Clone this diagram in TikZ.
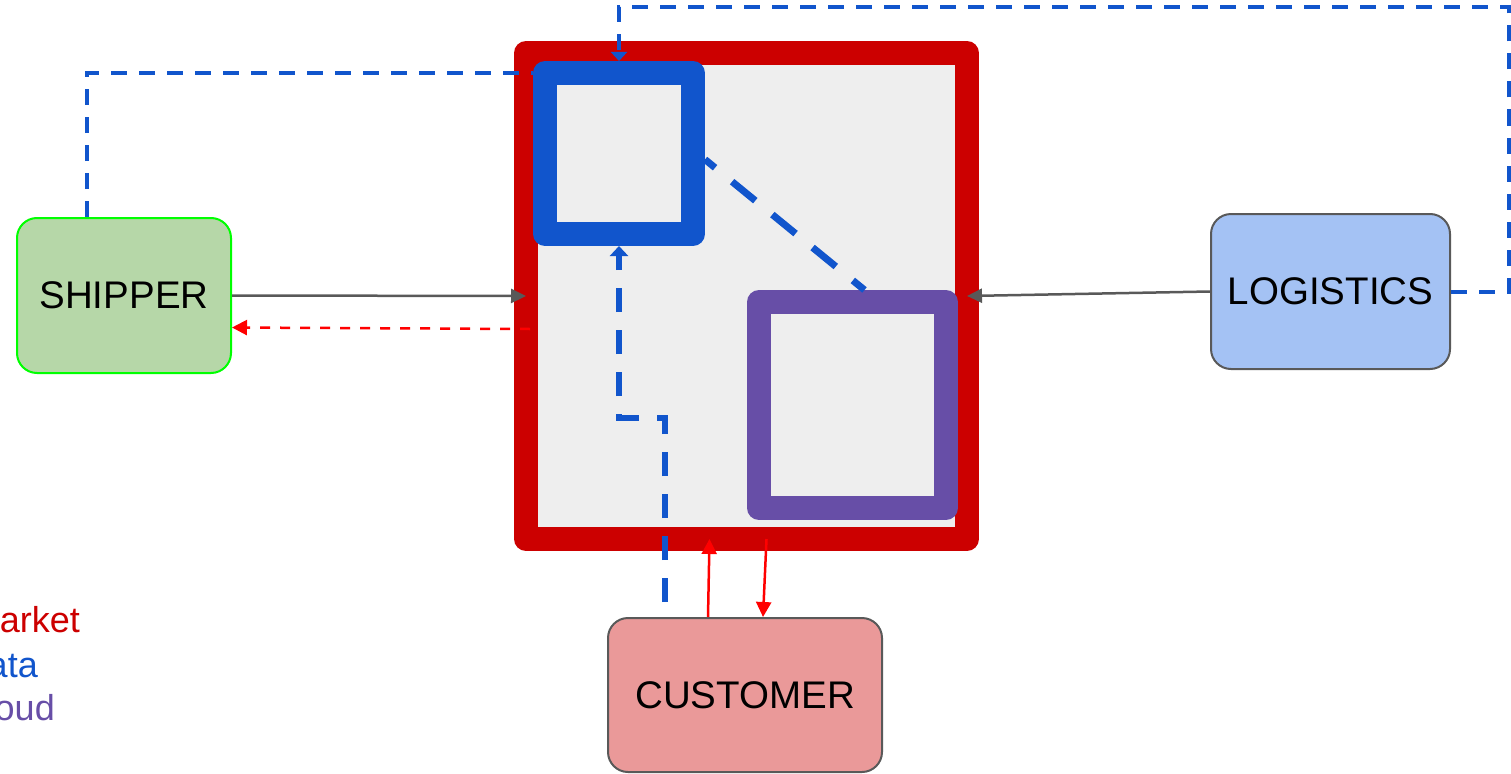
\documentclass[tikz,border=0pt]{standalone}
\usepackage{fontspec}
\setmainfont{Liberation Sans}
\usetikzlibrary{arrows.meta}
\definecolor{mktred}{HTML}{CC0000}
\definecolor{datablue}{HTML}{1155CC}
\definecolor{cloudpurple}{HTML}{674EA7}
\definecolor{panelgray}{HTML}{EEEEEE}
\definecolor{edgegray}{HTML}{595959}
\definecolor{shipfill}{HTML}{B6D7A8}
\definecolor{logifill}{HTML}{A4C2F4}
\definecolor{custfill}{HTML}{EA9999}

\begin{document}
\begin{tikzpicture}[x=1pt, y=-1pt,
actor/.style={rectangle, rounded corners=20pt, line width=2pt, draw=edgegray, align=center, font=\fontsize{38.5}{46}\selectfont},
frame/.style={rectangle, line width=24pt, line join=round, fill=panelgray, inner sep=0pt},
legend/.style={anchor=base east, inner sep=0pt, font=\fontsize{36}{42}\selectfont},
flow/.style={draw=edgegray, line width=2.5pt, -{Triangle[length=15pt,width=14pt]}},
reply/.style={draw=red, line width=2.5pt, -{Triangle[length=15pt,width=15pt]}},
dataline/.style={draw=datablue, line width=4pt, dash pattern=on 16pt off 12pt}
]
\useasboundingbox (0,0) rectangle (1511,773);

% boxes
\node[frame, draw=mktred, outer sep=0pt, minimum width=441pt, minimum height=486pt](market) at (746.5,296){};
\node[frame, draw=datablue, minimum width=148pt, minimum height=161pt](data) at (619,153.5){};
\node[frame, draw=cloudpurple, minimum width=187pt, minimum height=206pt](cloud) at (852.5,405){};

\node[actor, draw=green, fill=shipfill, minimum width=214pt, minimum height=155pt](shipper) at (124,295.5){SHIPPER};
\node[actor, fill=logifill, minimum width=239pt, minimum height=155pt](logistics) at (1330.5,291.5){LOGISTICS};
\node[actor, fill=custfill, minimum width=274pt, minimum height=154pt](customer) at (745,695){CUSTOMER};

% legend
\node[legend, text=mktred](legend_market) at (80,632){Market};
\node[legend, text=datablue](legend_data) at (38,677){Data};
\node[legend, text=cloudpurple](legend_cloud) at (55,720){Cloud};

\coordinate (top_right) at (1509,7);
\coordinate (data_bend) at (665,418);

% connectors
\draw[flow] (shipper.east) -- (market.west);
\draw[flow] (logistics.west) -- (market.east);
\draw[reply, dash pattern=on 10pt off 10pt] ([xshift=4pt,yshift=-33pt]market.west) -- ([yshift=-32pt]shipper.east);
\draw[reply] ([xshift=-37pt]customer.north) -- ([xshift=-37pt]market.south);
\draw[reply] ([xshift=20pt]market.south) -- ([xshift=18pt]customer.north);

\draw[dataline] ([xshift=-37pt]shipper.north) |- ([yshift=-12pt]data.north west);
\draw[dataline, -{Triangle[length=9pt,width=16pt]}] (logistics.east) -| (top_right) -| (data.north);
\draw[dataline, line width=6pt, dash pattern=on 24pt off 18pt, dash phase=27pt, -{Triangle[length=10pt,width=18pt]}] ([xshift=-80pt]customer.north) -- (data_bend) -| (data.south);
\draw[dataline, line width=7pt, dash pattern=on 30pt off 22pt, dash phase=17pt] ([yshift=-6pt]data.east) -- ([xshift=12pt]cloud.north);

\end{tikzpicture}
\end{document}
